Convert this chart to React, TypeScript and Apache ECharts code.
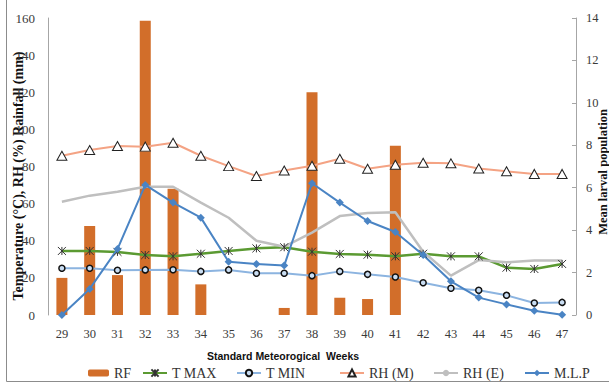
import React, { useEffect, useRef } from "react";
import * as echarts from "echarts";

const weeks = ["29", "30", "31", "32", "33", "34", "35", "36", "37", "38", "39", "40", "41", "42", "43", "44", "45", "46", "47"];
const rf = [20, 48, 21.5, 158.5, 68, 16.5, 0, 0, 3.8, 120, 9.3, 8.6, 91.2, 0, 0, 0, 0, 0, 0];
const tmax = [34.5, 34.5, 34, 32.3, 31.6, 33, 34.5, 35.9, 36.5, 34.1, 32.9, 32.5, 31.6, 33, 31.6, 31.6, 25.5, 24.8, 27.5];
const tmin = [25.2, 25.2, 24.1, 24.3, 24.4, 23.5, 24.3, 22.5, 22.5, 21.2, 23.5, 21.9, 20.5, 17.4, 14.4, 13.3, 10.6, 6.5, 6.8];
const rhm = [85.8, 88.9, 91, 90.7, 92.8, 85.8, 80.2, 74.9, 77.8, 80.4, 84.2, 78.8, 80.9, 82, 81.7, 78.9, 77.4, 76, 76];
const rhe = [61, 64.3, 66.4, 69.1, 69.1, 60.5, 52.4, 40, 36.8, 44.4, 53.3, 54.9, 55.4, 34.1, 21.2, 29.6, 28.4, 29.3, 29.3];
const mlp = [0, 1.23, 3.11, 6.13, 5.3, 4.59, 2.51, 2.4, 2.33, 6.21, 5.3, 4.43, 3.91, 2.83, 1.59, 0.82, 0.5, 0.2, 0.01];

const SERIF = "Liberation Serif, serif";
const asterisk = "path://M0 0L10 10M10 0L0 10M5 0L5 10";

export default function App() {
  const ref = useRef<HTMLDivElement>(null);
  useEffect(() => {
    document.body.style.margin = "0";
    const chart = echarts.init(ref.current!, null, { renderer: "svg" });
    const legendText = { fontFamily: SERIF, fontSize: 14, color: "#333", lineHeight: 16 };
    const mkLegend = (name: string, left: number, w: number, h: number) => ({
      data: [name],
      left,
      top: 360,
      itemWidth: w,
      itemHeight: h,
      textStyle: legendText,
      selectedMode: false,
    });
    chart.setOption({
      animation: false,
      grid: { left: 48, right: 33, top: 18, bottom: 70 },
      legend: [
        mkLegend("RF", 83, 21, 7),
        mkLegend("T MAX", 137, 24, 9),
        mkLegend("T MIN", 231, 24, 8),
        mkLegend("RH (M)", 334, 24, 9),
        mkLegend("RH (E)", 428, 24, 8),
        mkLegend("M.L.P", 519, 24, 8),
      ],
      xAxis: {
        type: "category",
        data: weeks,
        axisLine: { show: false },
        axisTick: { show: false },
        axisLabel: { fontFamily: SERIF, fontSize: 12.5, color: "#3a3a3a", margin: 12 },
      },
      yAxis: [
        {
          type: "value",
          min: 0,
          max: 160,
          interval: 20,
          splitLine: { show: false },
          axisLine: { show: true, lineStyle: { color: "#a6a6a6" } },
          axisTick: { show: false },
          axisLabel: { fontFamily: SERIF, fontSize: 13, color: "#3a3a3a", margin: 13 },
        },
        {
          type: "value",
          min: 0,
          max: 14,
          interval: 2,
          position: "right",
          splitLine: { show: false },
          axisLine: { show: true, lineStyle: { color: "#a6a6a6" } },
          axisTick: { show: true, inside: true, length: 4, lineStyle: { color: "#a6a6a6" } },
          axisLabel: { fontFamily: SERIF, fontSize: 12.5, color: "#3a3a3a", margin: 10 },
        },
      ],
      series: [
        {
          name: "RF",
          type: "bar",
          data: rf,
          barWidth: 11,
          itemStyle: { color: "#D26E2A" },
        },
        {
          name: "T MAX",
          type: "line",
          data: tmax,
          symbol: asterisk,
          symbolSize: 8,
          lineStyle: { color: "#5B9A32", width: 2.5 },
          itemStyle: { color: "none", borderColor: "#333", borderWidth: 1 },
        },
        {
          name: "T MIN",
          type: "line",
          data: tmin,
          symbol: "circle",
          symbolSize: 6,
          lineStyle: { color: "#8CB4E0", width: 2 },
          itemStyle: { color: "#C9DDF2", borderColor: "#111", borderWidth: 1.5 },
        },
        {
          name: "RH (M)",
          type: "line",
          data: rhm,
          symbol: "triangle",
          symbolSize: [10, 9],
          lineStyle: { color: "#F4A384", width: 2 },
          itemStyle: { color: "#fff", borderColor: "#222", borderWidth: 1 },
        },
        {
          name: "RH (E)",
          type: "line",
          data: rhe,
          symbol: "none",
          lineStyle: { color: "#BFBFBF", width: 2.5 },
          itemStyle: { color: "#BFBFBF" },
        },
        {
          name: "M.L.P",
          type: "line",
          yAxisIndex: 1,
          data: mlp,
          symbol: "diamond",
          symbolSize: 8,
          lineStyle: { color: "#4A84C4", width: 2 },
          itemStyle: { color: "#4A84C4" },
        },
      ],
      graphic: [
        {
          type: "rect",
          shape: { x: 6.5, y: -10, width: 640, height: 391.5 },
          style: { fill: "none", stroke: "#8c8c8c", lineWidth: 1 },
          silent: true,
        },
        {
          type: "text",
          x: 18,
          y: 176,
          rotation: Math.PI / 2,
          style: {
            text: "Temperature (°C), RH (%) Rainfall (mm)",
            font: "bold 14px Liberation Serif, serif",
            fill: "#111",
            textAlign: "center",
            textVerticalAlign: "middle",
          },
        },
        {
          type: "text",
          x: 603,
          y: 172,
          rotation: Math.PI / 2,
          style: {
            text: "Mean larval population",
            font: "bold 12.5px Liberation Serif, serif",
            fill: "#111",
            textAlign: "center",
            textVerticalAlign: "middle",
          },
        },
        {
          type: "text",
          x: 283,
          y: 356,
          style: {
            text: "Standard Meteorogical  Weeks",
            font: "bold 10.5px Liberation Sans, Arial, sans-serif",
            fill: "#111",
            textAlign: "center",
            textVerticalAlign: "middle",
          },
        },
      ],
    });
    return () => chart.dispose();
  }, []);
  return <div ref={ref} style={{ width: 609, height: 385 }} />;
}
